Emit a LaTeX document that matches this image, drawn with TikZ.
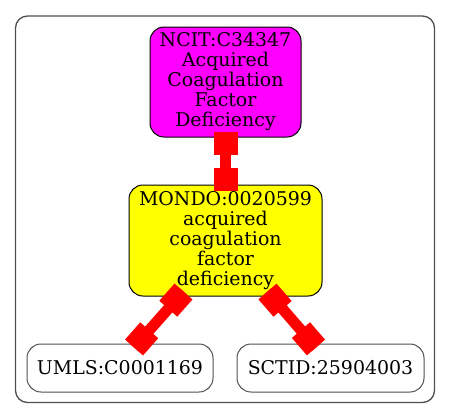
\documentclass[tikz,border=0pt]{standalone}
\usepackage{fontspec}
\setmainfont{DejaVu Serif}
\usetikzlibrary{calc}
\newlength{\px}
\setlength{\px}{0.75pt}
\definecolor{gvmagenta}{RGB}{255,0,255}
\definecolor{gvyellow}{RGB}{255,255,0}
\definecolor{gvred}{RGB}{255,0,0}
\definecolor{gvgray}{RGB}{80,80,80}
\tikzset{
  term/.style={draw=black, line width=1\px, rounded corners=14\px, inner sep=0pt, align=center,
    font=\fontsize{14.2}{15}\selectfont},
  linkline/.style={draw=gvred, line width=11\px, line cap=butt},
  linkbox/.style={draw=gvred, line width=24\px, line cap=butt},
  cluster/.style={draw=gvgray, line width=1.3\px, rounded corners=12\px}
}
\begin{document}
\begin{tikzpicture}[x=1\px, y=-1\px]
\useasboundingbox (0,0) rectangle (451,419);
\draw[cluster] (15.5,16) rectangle (434.5,402.5);
\node[term, fill=gvmagenta, minimum width=151\px, minimum height=110\px] (ncit) at (225.5,82)
  {NCIT:C34347\\Acquired\\Coagulation\\Factor\\Deficiency};
\node[term, fill=gvyellow, minimum width=193\px, minimum height=111\px] (mondo) at (225.5,240.5)
  {MONDO:0020599\\acquired\\coagulation\\factor\\deficiency};
\node[term, draw=gvgray, fill=white, minimum width=186\px, minimum height=48\px] (umls) at (120,368)
  {UMLS:C0001169};
\node[term, draw=gvgray, fill=white, minimum width=187\px, minimum height=48\px] (sctid) at (330.5,368)
  {SCTID:25904003};
% connector end points
\coordinate (a1) at ($(ncit.south)+(0,-6)$);
\coordinate (a2) at ($(mondo.north)+(0,6)$);
\coordinate (b1) at ($(mondo.south)+(-42,-5)$);
\coordinate (b2) at ($(umls.north)+(14,4)$);
\coordinate (c1) at ($(mondo.south)+(42,-5)$);
\coordinate (c2) at ($(sctid.north)+(-14.5,4)$);
\foreach \s/\e in {a1/a2, b1/b2, c1/c2}{
  \draw[linkline] (\s) -- (\e);
  \draw[linkbox] (\s) -- ($(\s)!23\px!(\e)$);
  \draw[linkbox] (\e) -- ($(\e)!23\px!(\s)$);
}
\end{tikzpicture}
\end{document}
